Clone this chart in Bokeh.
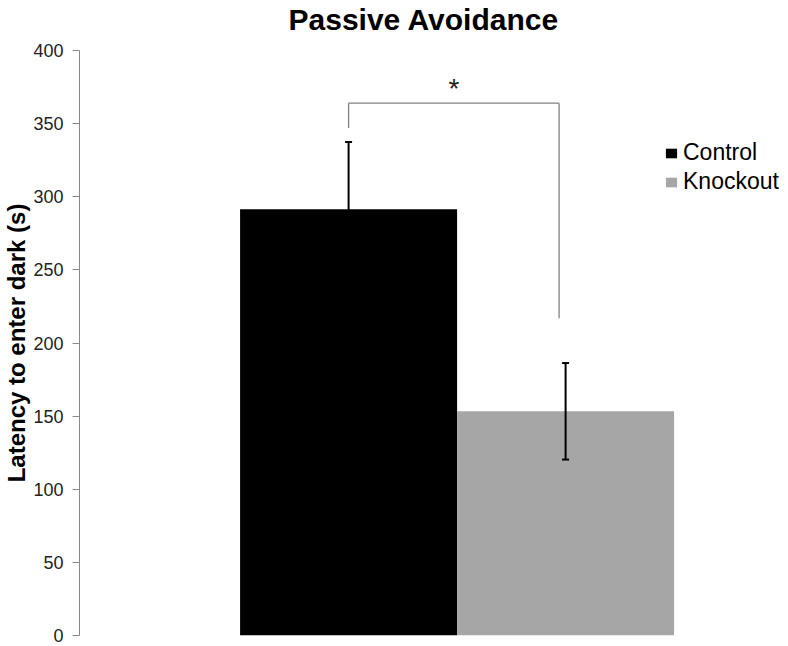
from bokeh.plotting import figure
from bokeh.models import (Range1d, FixedTicker, Whisker, TeeHead, ColumnDataSource,
                          Legend, LegendItem, Title)
from bokeh.core.properties import value
from bokeh.embed import file_html
from bokeh.resources import INLINE

# ---- data ----
groups = ["Control", "Knockout"]
latency = [291.5, 153.3]
sem = [46.0, 33.0]
colors = ["#000000", "#a6a6a6"]
y_ticks = [0, 50, 100, 150, 200, 250, 300, 350, 400]
title_text = "Passive Avoidance"
y_label = "Latency to enter dark (s)"
sig_label = "*"
bracket_top = 364
bracket_left_end = 347
bracket_right_end = 217

FONT = "Liberation Sans"

xs = [i + 1 for i in range(len(groups))]

p = figure(width=788, height=646, output_backend="svg", toolbar_location=None,
           x_range=Range1d(-0.24, 3.018), y_range=Range1d(0, 400),
           x_axis_location=None, min_border_left=79, min_border_right=2,
           min_border_top=50, min_border_bottom=11)
p.xgrid.visible = False
p.ygrid.visible = False
p.outline_line_color = None
p.background_fill_color = "white"
p.border_fill_color = "white"

# spacer between frame and title, then the title itself (stacked outward)
spacer = Title(text=" ", text_font_size="1px", standoff=11.4)
p.add_layout(spacer, "above")
main_title = Title(text=title_text, text_font=FONT, text_font_size="30px",
                   text_font_style="bold", text_color="#000000",
                   align="left", offset=209, vertical_align="bottom", standoff=0)
p.add_layout(main_title, "above")

renderers = []
for i, g in enumerate(groups):
    src = ColumnDataSource(dict(x=[xs[i]], top=[latency[i]]))
    r = p.vbar(x="x", top="top", bottom=0, width=1.0, source=src,
               fill_color=colors[i], line_color=None)
    renderers.append(r)

err_src = ColumnDataSource(dict(
    x=xs,
    upper=[v + e for v, e in zip(latency, sem)],
    lower=[v - e for v, e in zip(latency, sem)],
))
w = Whisker(source=err_src, base="x", upper="upper", lower="lower",
            line_color="black", line_width=2, level="overlay",
            upper_head=TeeHead(size=7, line_color="black", line_width=2),
            lower_head=TeeHead(size=7, line_color="black", line_width=2))
p.add_layout(w)

# significance bracket
bx0 = xs[0]
bx1 = xs[1] - 0.03
p.segment(x0=[bx0, bx0, bx1], y0=[bracket_left_end, bracket_top, bracket_top],
          x1=[bx0, bx1, bx1], y1=[bracket_top, bracket_top, bracket_right_end],
          line_color="#808080", line_width=1.3)
p.text(x=[(bx0 + bx1) / 2], y=[bracket_top], text=[sig_label],
       text_font=value(FONT), text_font_size="28px", text_color="#222222",
       text_align="center", text_baseline="alphabetic", y_offset=-15)

# y axis
ax = p.yaxis[0]
ax.ticker = FixedTicker(ticks=y_ticks)
ax.minor_tick_line_color = None
ax.axis_line_color = "#888888"
ax.major_tick_line_color = "#888888"
ax.major_tick_out = 7
ax.major_tick_in = 0
ax.major_label_text_font = FONT
ax.major_label_text_font_size = "18px"
ax.major_label_text_color = "#222222"
ax.major_label_standoff = 9
ax.axis_label = y_label
ax.axis_label_text_font = FONT
ax.axis_label_text_font_size = "24px"
ax.axis_label_text_font_style = "bold"
ax.axis_label_text_color = "#000000"
ax.axis_label_standoff = 0

legend = Legend(items=[LegendItem(label=g, renderers=[r]) for g, r in zip(groups, renderers)],
                location=(585, 440), orientation="vertical",
                glyph_width=14, glyph_height=12, label_standoff=5, spacing=2,
                padding=0, margin=0, border_line_color=None,
                background_fill_alpha=0,
                label_text_font=FONT, label_text_font_size="23px",
                label_text_color="#000000")
p.add_layout(legend)

open("out.html", "w").write(file_html(p, INLINE))
